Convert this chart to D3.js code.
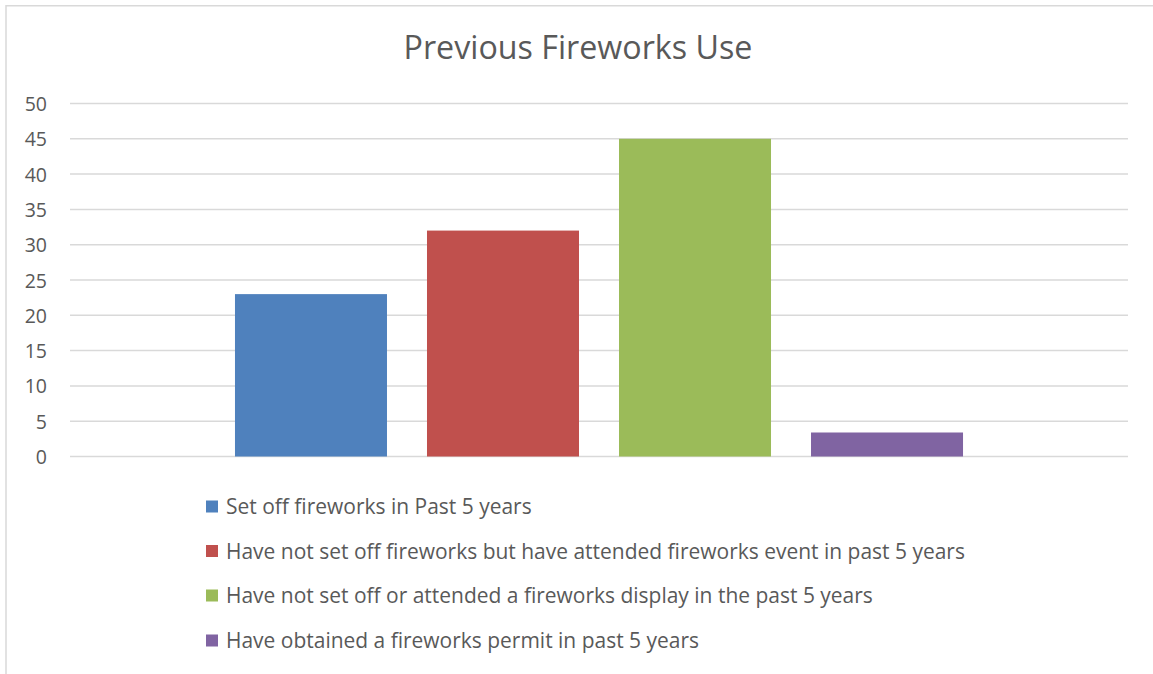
<!DOCTYPE html>
<html>
<head>
<meta charset="utf-8">
<script src="https://cdn.jsdelivr.net/npm/d3@7"></script>
<style>
  html, body { margin: 0; padding: 0; background: #fff; }
  svg { display: block; }
  text { font-family: "Open Sans", sans-serif; fill: #595959; }
</style>
</head>
<body>
<svg id="chart" width="1153" height="674"></svg>
<script>
// ---- data ----
const title = "Previous Fireworks Use";
const categories = [""];
const seriesNames = [
  "Set off fireworks in Past 5 years",
  "Have not set off fireworks but have attended fireworks event in past 5 years",
  "Have not set off or attended a fireworks display in the past 5 years",
  "Have obtained a fireworks permit in past 5 years"
];
const seriesValues = [23, 32, 45, 3.4];
const seriesColors = ["#4f81bd", "#c0504d", "#9bbb59", "#8064a2"];
const yTicks = [0, 5, 10, 15, 20, 25, 30, 35, 40, 45, 50];

// ---- layout ----
const W = 1153, H = 674;
const plot = { left: 70, right: 1128, top: 103.5, bottom: 456.5 };
const svg = d3.select("#chart");

// frame
svg.append("rect")
  .attr("x", 6).attr("y", 5.75).attr("width", W + 10).attr("height", H + 10)
  .attr("fill", "none").attr("stroke", "#d9d9d9").attr("stroke-width", 1.5);

// scales
const y = d3.scaleLinear().domain([0, 50]).range([plot.bottom, plot.top]);
const x0 = d3.scaleBand().domain(categories).range([plot.left, plot.right])
  .paddingInner(0).paddingOuter(0.2266);
const x1 = d3.scaleBand().domain(seriesNames).range([0, x0.bandwidth()])
  .paddingInner(40 / 192).paddingOuter(0);

// gridlines
svg.append("g").selectAll("line").data(yTicks).join("line")
  .attr("x1", plot.left).attr("x2", plot.right)
  .attr("y1", d => y(d)).attr("y2", d => y(d))
  .attr("stroke", "#d9d9d9").attr("stroke-width", 1.5);

// y axis labels
const yAxis = d3.axisLeft(y).tickValues(yTicks).tickSize(0).tickPadding(0);
const gy = svg.append("g").attr("transform", `translate(47,0)`).call(yAxis);
gy.select(".domain").remove();
gy.selectAll("text")
  .attr("font-family", "Open Sans, sans-serif")
  .attr("font-size", 19.5).attr("fill", "#595959").attr("dy", "0.36em");

// bars
const gBars = svg.append("g");
categories.forEach(cat => {
  gBars.selectAll("rect.bar").data(seriesNames.map((s, i) => ({ s, v: seriesValues[i], c: seriesColors[i] })))
    .join("rect").attr("class", "bar")
    .attr("x", d => x0(cat) + x1(d.s))
    .attr("width", x1.bandwidth())
    .attr("y", d => y(d.v))
    .attr("height", d => y(0) - y(d.v))
    .attr("fill", d => d.c);
});

// title
const t = svg.append("text").attr("x", 578).attr("y", 58.5)
  .attr("text-anchor", "middle").attr("font-size", 28).text(title);
const tw = t.node().getComputedTextLength();
t.attr("font-size", 28 * 349 / tw);

// legend
const legY = [507, 551.5, 596, 641];
const leg = svg.append("g");
seriesNames.forEach((s, i) => {
  leg.append("rect").attr("x", 206).attr("y", legY[i] - 6.5)
    .attr("width", 12).attr("height", 12).attr("fill", seriesColors[i]);
  leg.append("text").attr("class", "lt").attr("x", 226).attr("y", legY[i])
    .attr("dy", "0.35em").attr("font-size", 19).text(s);
});
const l2 = leg.selectAll("text.lt").nodes()[1];
const lw = l2.getComputedTextLength();
const fs = 19 * 739 / lw;
leg.selectAll("text.lt").attr("font-size", fs);
</script>
</body>
</html>
